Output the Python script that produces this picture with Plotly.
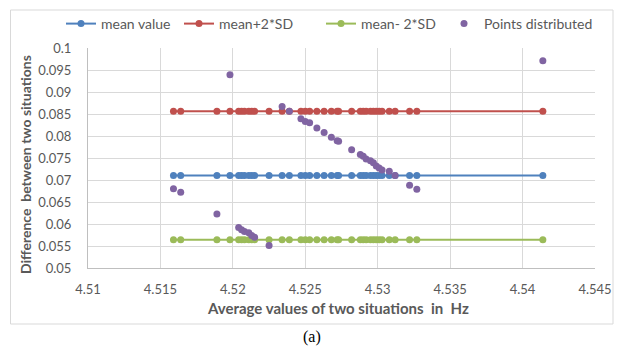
import plotly.graph_objects as go

# ---- data ----
avg_hz = [4.5159, 4.5164, 4.5189, 4.5198, 4.5204, 4.5206, 4.5208, 4.5211, 4.5213, 4.5215,
          4.5225, 4.5234, 4.5239, 4.5247, 4.5250, 4.5253, 4.5258, 4.5263, 4.5268, 4.5272,
          4.5273, 4.5282, 4.5288, 4.5290, 4.5292, 4.5295, 4.5297, 4.5299, 4.5301, 4.5303,
          4.5308, 4.5312, 4.5322, 4.5327, 4.5414]
diff_vals = [0.0680, 0.0672, 0.0623, 0.0939, 0.0592, 0.0587, 0.0583, 0.0580, 0.0574, 0.0570,
             0.0551, 0.0867, 0.0856, 0.0839, 0.0833, 0.0830, 0.0818, 0.0808, 0.0797, 0.0789,
             0.0788, 0.0769, 0.0758, 0.0754, 0.0748, 0.0744, 0.0739, 0.0732, 0.0727, 0.0723,
             0.0720, 0.0710, 0.0688, 0.0679, 0.0971]
mean_value = 0.0710
upper_limit = 0.0856
lower_limit = 0.0564
mean_line = [mean_value] * len(avg_hz)
upper_line = [upper_limit] * len(avg_hz)
lower_line = [lower_limit] * len(avg_hz)

x_ticks = [4.51, 4.515, 4.52, 4.525, 4.53, 4.535, 4.54, 4.545]
x_tick_text = ["4.51", "4.515", "4.52", "4.525", "4.53", "4.535", "4.54", "4.545"]
y_ticks = [0.05, 0.055, 0.06, 0.065, 0.07, 0.075, 0.08, 0.085, 0.09, 0.095, 0.1]
y_tick_text = ["0.05", "0.055", "0.06", "0.065", "0.07", "0.075", "0.08", "0.085", "0.09", "0.095", "0.1"]

# ---- layout geometry ----
FW, FH = 617, 349
L, R, T, B = 88, 22, 48, 81
PW, PH = FW - L - R, FH - T - B

def px_x(p):
    return (p - L) / PW

def px_y(p):
    return 1 - (p - T) / PH

FONT = "Lato"
GRAY = "#595959"
BLUE, RED, GREEN, PURPLE = "#4F81BD", "#C0504D", "#9BBB59", "#8064A2"

fig = go.Figure()
fig.add_trace(go.Scatter(x=avg_hz, y=mean_line, mode="lines+markers", name="mean value",
                         line=dict(color=BLUE, width=2), marker=dict(color=BLUE, size=7),
                         legend="legend", showlegend=True))
fig.add_trace(go.Scatter(x=avg_hz, y=upper_line, mode="lines+markers", name="mean+2*SD",
                         line=dict(color=RED, width=2), marker=dict(color=RED, size=7),
                         legend="legend2", showlegend=True))
fig.add_trace(go.Scatter(x=avg_hz, y=lower_line, mode="lines+markers", name="mean- 2*SD",
                         line=dict(color=GREEN, width=2), marker=dict(color=GREEN, size=7),
                         legend="legend3", showlegend=True))
fig.add_trace(go.Scatter(x=avg_hz, y=diff_vals, mode="markers", name="Points distributed",
                         marker=dict(color=PURPLE, size=7), legend="legend4", showlegend=True))

def leg(xpx):
    return dict(xref="container", yref="container", x=xpx / FW, y=1 - 24 / FH,
                xanchor="left", yanchor="middle", orientation="h",
                font=dict(family=FONT, size=14, color=GRAY), bgcolor="rgba(0,0,0,0)",
                borderwidth=0)

fig.update_layout(
    width=FW, height=FH,
    showlegend=True,
    margin=dict(l=L, r=R, t=T, b=B, autoexpand=False),
    paper_bgcolor="white", plot_bgcolor="white",
    font=dict(family=FONT, color=GRAY),
    legend=leg(61), legend2=leg(179), legend3=leg(321), legend4=leg(444),
    xaxis=dict(range=[4.51, 4.545], tickvals=x_ticks, ticktext=x_tick_text,
               showgrid=True, gridcolor="#d9d9d9", gridwidth=1, zeroline=False,
               showline=True, linecolor="#bfbfbf", linewidth=1, ticks="",
               tickfont=dict(family=FONT, size=13, color=GRAY), ticklabelstandoff=9),
    yaxis=dict(range=[0.05, 0.1], tickvals=y_ticks, ticktext=y_tick_text,
               showgrid=True, gridcolor="#d9d9d9", gridwidth=1, zeroline=False,
               showline=True, linecolor="#bfbfbf", linewidth=1, ticks="",
               tickfont=dict(family=FONT, size=13, color=GRAY), ticklabelstandoff=13),
    shapes=[dict(type="rect", xref="paper", yref="paper",
                 x0=px_x(10.5), x1=px_x(613), y0=px_y(324), y1=px_y(10),
                 line=dict(color="#d9d9d9", width=1), layer="below")],
    annotations=[
        dict(text="Average values of two situations\u00a0\u00a0in\u00a0\u00a0Hz", xref="paper", yref="paper",
             x=px_x(338), y=px_y(308), showarrow=False, xanchor="center", yanchor="middle",
             font=dict(family=FONT, size=15, color=GRAY, weight="bold")),
        dict(text="Difference\u00a0\u00a0between two situations", xref="paper", yref="paper",
             x=px_x(25), y=px_y(165), showarrow=False, textangle=-90,
             xanchor="center", yanchor="middle",
             font=dict(family=FONT, size=14, color=GRAY, weight="bold")),
        dict(text="(a)", xref="paper", yref="paper", x=px_x(312), y=px_y(337),
             showarrow=False, xanchor="center", yanchor="middle",
             font=dict(family="Liberation Serif", size=16, color="black")),
    ],
)

fig.write_html("out.html", config={"displayModeBar": False},
               post_script="document.body.style.margin='0';document.body.style.overflow='hidden';")
